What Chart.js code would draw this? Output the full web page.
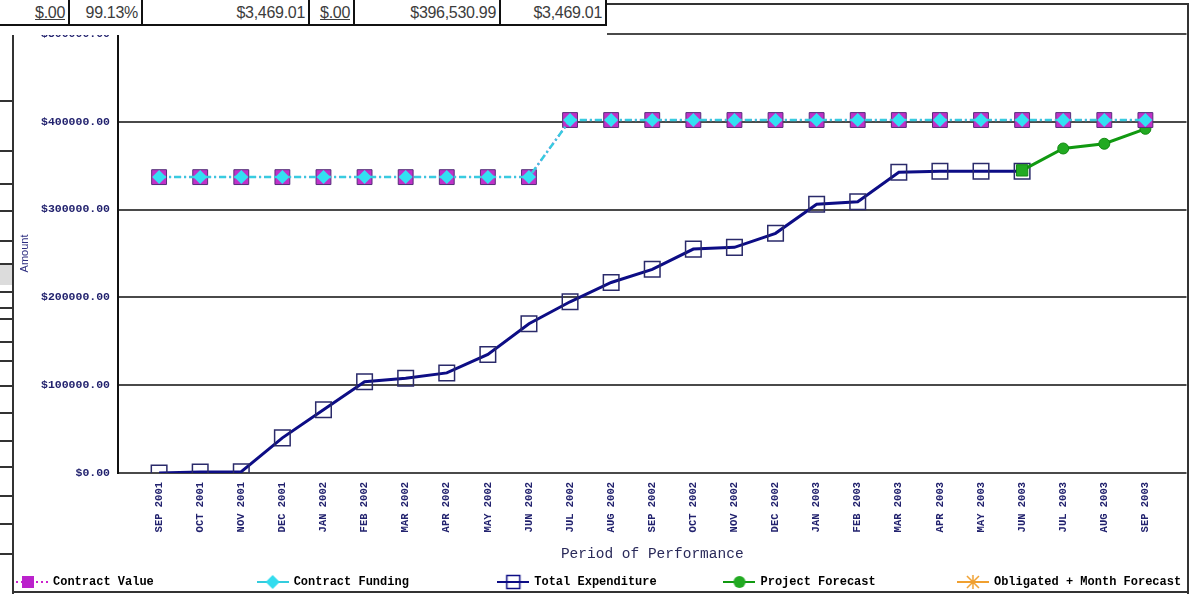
<!DOCTYPE html>
<html>
<head>
<meta charset="utf-8">
<title>Period of Performance</title>
<script src="https://cdn.jsdelivr.net/npm/chart.js@4.4.0/dist/chart.umd.min.js"></script>
<style>
  html, body { margin: 0; padding: 0; background: #fff; overflow: hidden; }
  #wrap { position: relative; width: 1190px; height: 594px; overflow: hidden; background: #fff; }
  #perf-chart { position: absolute; left: 0; top: 0; }
  /* white strip over the top of the chart, holding the totals row */
  #cover { position: absolute; left: 0; top: 0; width: 607px; height: 35px; background: #fff; }
  .cell { position: absolute; top: 0; height: 26px; line-height: 25px; border-right: 2px solid #111; border-bottom: 2px solid #111;
          text-align: right; padding-right: 3px; box-sizing: border-box; font-family: "Liberation Sans", Arial, sans-serif; font-size: 16px; color: #3c3c3c; letter-spacing: -0.3px; }
  .cell u { text-decoration: underline; }
  .rule { position: absolute; background: #333; }
  .shade { position: absolute; background: #dcdcdc; }
</style>
</head>
<body>
<div id="wrap">
  <canvas id="perf-chart" width="1199" height="598"></canvas>
  <div id="cover"></div>
  <div class="cell" style="left:0;width:70px;"><u>$.00</u></div>
  <div class="cell" style="left:70px;width:73px;">99.13%</div>
  <div class="cell" style="left:143px;width:167px;">$3,469.01</div>
  <div class="cell" style="left:310px;width:45px;"><u>$.00</u></div>
  <div class="cell" style="left:355px;width:146px;">$396,530.99</div>
  <div class="cell" style="left:501px;width:106px;">$3,469.01</div>
  <!-- frame lines of the page around the chart -->
  <div class="rule" style="left:607px;top:3px;width:582px;height:2px;"></div>
  <div class="rule" style="left:1187px;top:3px;width:2px;height:591px;"></div>
  <div class="rule" style="left:13px;top:591px;width:1176px;height:2px;"></div>
  <div class="rule" style="left:12px;top:35px;width:2px;height:559px;"></div>
  <div id="side"></div>
</div>
<script>
// months on the x axis
const months = [
  "SEP 2001", "OCT 2001", "NOV 2001", "DEC 2001", "JAN 2002", "FEB 2002", "MAR 2002",
  "APR 2002", "MAY 2002", "JUN 2002", "JUL 2002", "AUG 2002", "SEP 2002", "OCT 2002",
  "NOV 2002", "DEC 2002", "JAN 2003", "FEB 2003", "MAR 2003", "APR 2003", "MAY 2003",
  "JUN 2003", "JUL 2003", "AUG 2003", "SEP 2003"
];

// series values (dollars), one per month
const contractValue = [
  337000, 337000, 337000, 337000, 337000, 337000, 337000, 337000, 337000, 337000,
  402000, 402000, 402000, 402000, 402000, 402000, 402000, 402000, 402000, 402000,
  402000, 402000, 402000, 402000, 402000
];
const contractFunding = [
  337000, 337000, 337000, 337000, 337000, 337000, 337000, 337000, 337000, 337000,
  402000, 402000, 402000, 402000, 402000, 402000, 402000, 402000, 402000, 402000,
  402000, 402000, 402000, 402000, 402000
];
const totalExpenditure = [
  0, 1000, 1500, 40000, 72000, 104000, 108000, 114000, 135000, 170000,
  195000, 217000, 232000, 255000, 257000, 273000, 306000, 309000, 342500, 343600,
  343600, 343600, null, null, null
];
const projectForecast = [
  null, null, null, null, null, null, null, null, null, null,
  null, null, null, null, null, null, null, null, null, null,
  null, 344700, 369600, 375000, 392000
];
const obligatedForecast = [];

// y axis ticks
const yTicks = [0, 100000, 200000, 300000, 400000, 500000];

const legendNames = ["Contract Value", "Contract Funding", "Total Expenditure", "Project Forecast", "Obligated + Month Forecast"];
const legendTrail = [14, 12, 9, 11, 0];

// one empty slot at each end so the first and last month sit a full step in
const xLabels = ["", ...months, ""];
function pad(arr) {
  const out = [null];
  for (let i = 0; i < months.length; i++) out.push(arr[i] === undefined ? null : arr[i]);
  out.push(null);
  return out;
}
const firstForecast = pad(projectForecast).findIndex((v) => v !== null);

// left-hand page lines, part of the surrounding page
const sideLines = [100, 150, 183, 210, 240, 263, 291, 307, 318, 341, 360, 385, 412, 440, 466, 495, 523, 553];
const side = document.getElementById("side");
side.innerHTML += '<div class="shade" style="left:0;top:263px;width:12px;height:22px;"></div>';
sideLines.forEach((y) => {
  side.innerHTML += '<div class="rule" style="left:0;top:' + y + 'px;width:13px;height:2px;"></div>';
});

// legend icons: short line with the series marker
function legendIcon(color, dash, drawMarker) {
  const c = document.createElement("canvas");
  c.width = 32;
  c.height = 16;
  const g = c.getContext("2d");
  g.strokeStyle = color;
  g.lineWidth = 2;
  g.setLineDash(dash);
  g.beginPath();
  g.moveTo(0, 8);
  g.lineTo(32, 8);
  g.stroke();
  g.setLineDash([]);
  drawMarker(g);
  return c;
}

const icons = [
  legendIcon("#cc22cc", [2, 3], (g) => {
    g.fillStyle = "#bb22cc";
    g.fillRect(6, 2, 12, 12);
  }),
  legendIcon("#33ccdd", [], (g) => {
    g.fillStyle = "#33dcee";
    g.beginPath();
    g.moveTo(16, 1); g.lineTo(23, 8); g.lineTo(16, 15); g.lineTo(9, 8);
    g.closePath();
    g.fill();
  }),
  legendIcon("#0d0d85", [], (g) => {
    g.strokeStyle = "#0d0d85";
    g.lineWidth = 1.5;
    g.strokeRect(9.5, 1.5, 13, 13);
  }),
  legendIcon("#119911", [], (g) => {
    g.fillStyle = "#22aa22";
    g.beginPath();
    g.arc(16, 8, 6, 0, Math.PI * 2);
    g.fill();
  }),
  legendIcon("#f0a030", [], (g) => {
    g.strokeStyle = "#f0a030";
    g.lineWidth = 1.5;
    g.beginPath();
    g.moveTo(10, 2); g.lineTo(22, 14);
    g.moveTo(22, 2); g.lineTo(10, 14);
    g.moveTo(16, 1); g.lineTo(16, 15);
    g.stroke();
  })
];

const navy = "#22226e";

new Chart(document.getElementById("perf-chart"), {
  type: "line",
  data: {
    labels: xLabels,
    datasets: [
      {
        label: "Contract Value",
        data: pad(contractValue),
        borderColor: "#cc22cc",
        backgroundColor: "#c030c8",
        borderWidth: 2,
        borderDash: [2, 3],
        pointStyle: "rect",
        pointRadius: 10.5,
        pointBorderColor: "#55307a",
        pointBorderWidth: 1,
        order: 2,
      },
      {
        label: "Contract Funding",
        data: pad(contractFunding),
        borderColor: "#38cce0",
        backgroundColor: "#33e0f2",
        borderWidth: 2.5,
        borderDash: [7, 3, 2, 3],
        pointStyle: "rectRot",
        pointRadius: 7,
        pointBorderWidth: 0,
        order: 1,
      },
      {
        label: "Total Expenditure",
        data: pad(totalExpenditure),
        borderColor: "#0d0d85",
        backgroundColor: "rgba(0,0,0,0)",
        borderWidth: 3,
        pointStyle: "rect",
        pointRadius: 11,
        pointBorderColor: "#2a2a6a",
        pointBorderWidth: 1.5,
        order: 4,
      },
      {
        label: "Project Forecast",
        data: pad(projectForecast),
        borderColor: "#119911",
        backgroundColor: "#22aa22",
        borderWidth: 3,
        pointStyle: (ctx) => (ctx.dataIndex === firstForecast ? "rect" : "circle"),
        pointRadius: (ctx) => (ctx.dataIndex === firstForecast ? 8 : 5.5),
        pointBorderColor: "#118811",
        pointBorderWidth: 1,
        order: 3,
      },
      {
        label: "Obligated + Month Forecast",
        data: pad(obligatedForecast),
        borderColor: "#f0a030",
        backgroundColor: "#f0a030",
        borderWidth: 2,
        pointStyle: "star",
        pointRadius: 6,
        order: 5,
      },
    ],
  },
  options: {
    responsive: false,
    animation: false,
    devicePixelRatio: 1,
    layout: { padding: { left: 14, right: 4, top: 34, bottom: 0 } },
    elements: { line: { tension: 0 } },
    plugins: {
      tooltip: { enabled: false },
      legend: {
        position: "bottom",
        align: "start",
        labels: {
          usePointStyle: true,
          pointStyleWidth: 30,
          padding: 3,
          color: navy,
          font: { family: "'Liberation Mono', 'DejaVu Sans Mono', monospace", size: 12, weight: "bold" },
          generateLabels: (chart) =>
            chart.data.datasets.map((ds, i) => ({
              text: legendNames[i] + " ".repeat(legendTrail[i]),
              pointStyle: icons[i],
              fillStyle: ds.backgroundColor,
              strokeStyle: ds.borderColor,
              lineWidth: 0,
              hidden: !chart.isDatasetVisible(i),
              datasetIndex: i,
            })),
        },
      },
    },
    scales: {
      x: {
        grid: { display: false },
        border: { display: false },
        ticks: {
          autoSkip: false,
          maxRotation: 90,
          minRotation: 90,
          padding: 1,
          color: navy,
          font: { family: "'Liberation Mono', 'DejaVu Sans Mono', monospace", size: 10.5, weight: "bold" },
        },
        title: {
          display: true,
          text: "Period of Performance",
          color: "#2a2a5a",
          padding: { top: 0, bottom: 10 },
          font: { family: "'Liberation Mono', 'DejaVu Sans Mono', monospace", size: 14.5 },
        },
        afterFit: (scale) => {
          scale.height = 100;
          scale.paddingLeft = 0;
          scale.paddingRight = 0;
        },
      },
      y: {
        min: yTicks[0],
        max: yTicks[yTicks.length - 1],
        afterBuildTicks: (scale) => {
          scale.ticks = yTicks.map((v) => ({ value: v }));
        },
        grid: { color: "#4a4a4a", lineWidth: 2, drawTicks: false },
        border: { color: "#111", width: 2 },
        ticks: {
          padding: 8,
          color: navy,
          font: { family: "'Liberation Mono', 'DejaVu Sans Mono', monospace", size: 11.5, weight: "bold" },
          callback: (v) => "$" + Number(v).toFixed(2),
        },
        title: {
          display: true,
          text: "Amount",
          color: "#2e2e80",
          padding: { top: 4, bottom: 0 },
          font: { family: "'Liberation Sans', Arial, sans-serif", size: 11 },
        },
        afterFit: (scale) => {
          scale.width = 104;
        },
      },
    },
  },
});
</script>
</body>
</html>
